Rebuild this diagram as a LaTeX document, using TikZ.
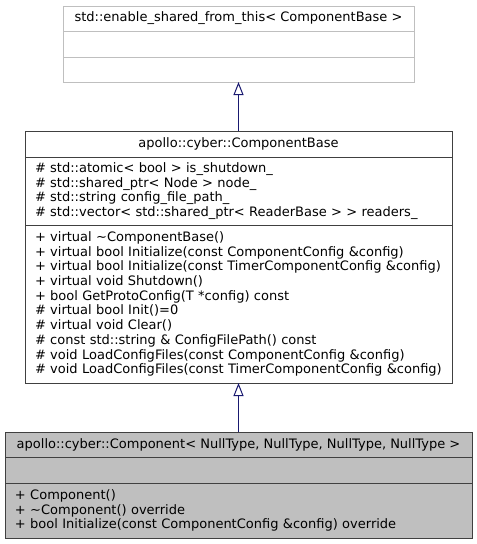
\documentclass[tikz,border=0pt]{standalone}
\usepackage{fontspec}
\setmainfont{DejaVu Sans}
\usepackage{tikz}
\usetikzlibrary{positioning, arrows.meta}
\definecolor{edgeblue}{HTML}{191970}
\definecolor{extgray}{HTML}{BFBFBF}
\tikzset{
    cls/.style={draw=black!75, line width=1pt, outer sep=0pt, anchor=north, inner xsep=10pt, inner ysep=3pt,
                font=\fontsize{13}{14.7}\selectfont},     % one part of a class box
    ext/.style={cls, draw=extgray},                      % class outside the documentation
    this/.style={cls, fill=extgray},                     % the class the diagram is about
    members/.style={align=left, text width=#1},          % left aligned member list
    inherit/.style={draw=edgeblue, line width=1pt, -{Triangle[open, width=10pt, length=13pt]}},
}

\begin{document}
\begin{tikzpicture}[x=1pt, y=-1pt]
\useasboundingbox (0,0) rectangle (477,544);

% std::enable_shared_from_this
\node[ext, minimum width=351pt, minimum height=25pt] (esft) at (238.5,6) {std::enable\_shared\_from\_this< ComponentBase >};
\node[ext, minimum width=351pt, minimum height=26pt, below=0pt of esft] (esftattr) {};
\node[ext, minimum width=351pt, minimum height=25pt, below=0pt of esftattr] (esftops) {};

% apollo::cyber::ComponentBase
\node[cls, minimum width=427pt, minimum height=26pt] (cbase) at (238.5,131) {apollo::cyber::ComponentBase};
\node[cls, members=407pt, minimum height=68pt, below=0pt of cbase] (cbaseattr) {%
\# std::atomic< bool > is\_shutdown\_\\
\# std::shared\_ptr< Node > node\_\\
\# std::string config\_file\_path\_\\
\# std::vector< std::shared\_ptr< ReaderBase > > readers\_};
\node[cls, members=407pt, minimum height=158pt, below=0pt of cbaseattr] (cbaseops) {%
+ virtual \textasciitilde ComponentBase()\\
+ virtual bool Initialize(const ComponentConfig \&config)\\
+ virtual bool Initialize(const TimerComponentConfig \&config)\\
+ virtual void Shutdown()\\
+ bool GetProtoConfig(T *config) const\\
\# virtual bool Init()=0\\
\# virtual void Clear()\\
\# const std::string \& ConfigFilePath() const\\
\# void LoadConfigFiles(const ComponentConfig \&config)\\
\# void LoadConfigFiles(const TimerComponentConfig \&config)};

% apollo::cyber::Component< NullType, ... >
\node[this, minimum width=467pt, minimum height=25pt] (comp) at (238.5,432) {apollo::cyber::Component< NullType, NullType, NullType, NullType >};
\node[this, minimum width=467pt, minimum height=26pt, below=0pt of comp] (compattr) {};
\node[this, members=447pt, minimum height=55pt, below=0pt of compattr] (compops) {%
+ Component()\\
+ \textasciitilde Component() override\\
+ bool Initialize(const ComponentConfig \&config) override};

\draw[inherit] (cbase) -- (esftops);
\draw[inherit] (comp) -- (cbaseops);

\end{tikzpicture}
\end{document}
